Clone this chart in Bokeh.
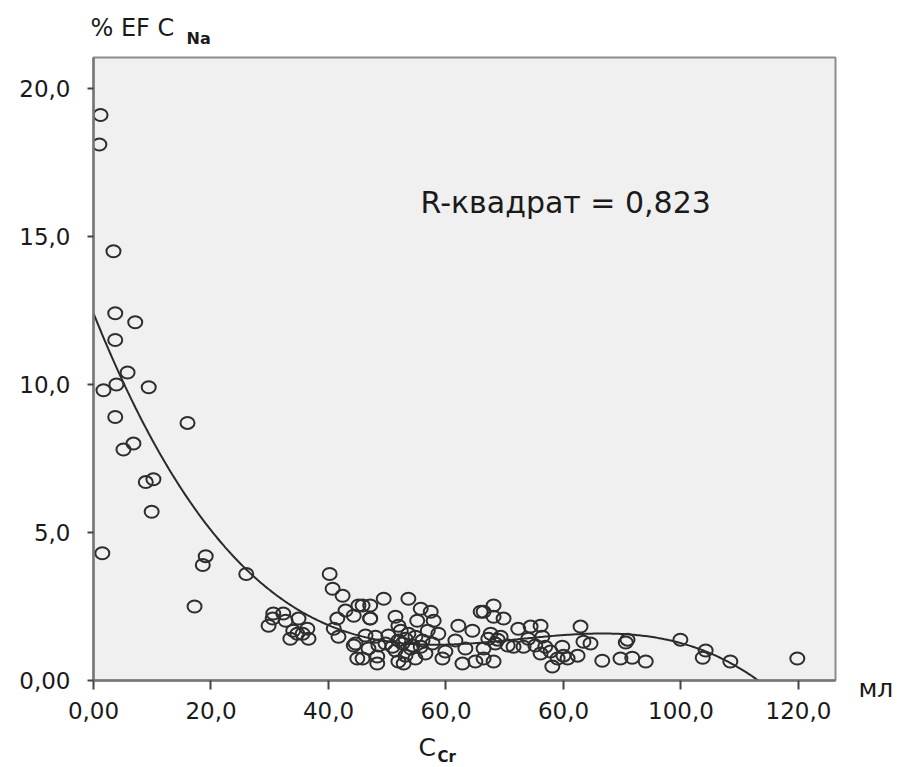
import numpy as np
from bokeh.plotting import figure
from bokeh.models import Range1d, FixedTicker, Label, ColumnDataSource
from bokeh.embed import file_html
from bokeh.resources import INLINE

# ---- data ----
ccr = [1.2, 1.0, 3.4, 3.7, 7.1, 3.7, 5.8, 3.9, 1.7, 9.4, 3.7, 16.0, 5.1, 6.8, 8.9, 10.2, 9.9, 1.5, 19.1, 18.6, 17.2, 26.0,
       30.6, 32.3, 30.5, 29.8, 32.7, 34.9, 33.5, 34.7, 35.6, 36.6, 36.4, 34.0,
       40.2, 40.7, 42.4, 42.9, 41.5, 44.3, 40.9, 41.7, 44.3, 45.1, 44.9, 45.8, 47.1, 47.1, 47.1, 49.4, 53.6, 51.4, 55.7, 57.4,
       55.1, 57.9, 56.9, 53.6, 51.9, 50.2, 48.0, 46.3, 44.6, 46.8, 48.5, 50.9, 52.6, 54.3, 56.0, 57.7, 58.7, 45.8, 48.3, 53.1,
       54.8, 59.4, 62.1, 64.5, 61.6, 63.3, 65.9, 62.8, 65.0, 59.9, 51.9, 52.8, 48.3, 51.9, 53.1, 54.0, 51.4, 54.8, 49.7, 55.7,
       52.3, 56.5,
       68.1, 66.4, 68.1, 69.8, 67.6, 69.3, 68.4, 66.4, 70.5, 72.3, 74.4, 76.1, 74.0, 76.4, 71.5, 73.2, 75.2, 76.9, 76.1, 77.8,
       79.8, 80.0, 79.0, 80.7, 82.4, 82.9, 83.4, 84.6, 86.6, 68.1, 78.1, 66.4, 67.2, 68.8,
       90.6, 90.9, 89.7, 91.7, 94.0, 99.9, 104.2, 103.7, 108.4, 119.8]
ef_na = [19.1, 18.1, 14.5, 12.4, 12.1, 11.5, 10.4, 10.0, 9.8, 9.9, 8.9, 8.7, 7.8, 8.0, 6.7, 6.8, 5.7, 4.3, 4.2, 3.9, 2.5, 3.6,
         2.26, 2.26, 2.09, 1.85, 2.02, 2.09, 1.41, 1.58, 1.58, 1.41, 1.75, 1.68,
         3.6, 3.1, 2.86, 2.36, 2.09, 2.19, 1.75, 1.48, 1.18, 2.53, 0.74, 2.53, 2.53, 2.09, 2.09, 2.76, 2.76, 2.15, 2.42, 2.32,
         2.02, 2.02, 1.68, 1.58, 1.85, 1.52, 1.48, 1.52, 1.25, 1.08, 1.18, 1.14, 1.25, 1.18, 1.35, 1.25, 1.58, 0.74, 0.81, 0.84,
         0.74, 0.74, 1.85, 1.68, 1.35, 1.08, 2.32, 0.57, 0.64, 0.98, 0.64, 0.57, 0.57, 1.35, 1.41, 1.08, 1.01, 1.48, 1.25, 1.14,
         1.68, 0.91,
         2.53, 2.32, 2.15, 2.09, 1.58, 1.48, 1.25, 1.08, 1.18, 1.75, 1.82, 1.85, 1.41, 1.48, 1.14, 1.14, 1.18, 1.14, 0.91, 0.98,
         1.14, 0.84, 0.74, 0.74, 0.84, 1.82, 1.31, 1.25, 0.67, 0.64, 0.47, 0.74, 1.41, 1.38,
         1.28, 1.38, 0.74, 0.77, 0.64, 1.38, 1.01, 0.77, 0.64, 0.74]

# fitted (cubic) line
fit_x = [0, 3.4, 5.7, 9.1, 12.5, 16.5, 19.9, 25.0, 28.9, 34.7, 40.3, 45.1, 50.2, 61.6, 66.7, 74.4, 82.9, 88.0, 97.0,
         99.9, 104.5, 108.4, 112.7]
fit_y = [12.46, 10.74, 9.83, 8.48, 7.14, 5.89, 5.19, 4.11, 3.2, 2.42, 1.85, 1.52, 1.31, 1.21, 1.25, 1.41, 1.52, 1.58, 1.41,
         1.41, 0.98, 0.57, 0.0]

x_ticks = [0, 20, 40, 60, 80, 100, 120]
x_tick_labels = ["0,00", "20,0", "40,0", "60,0", "60,0", "100,0", "120,0"]
y_ticks = [0, 5, 10, 15, 20]
y_tick_labels = ["0,00", "5,0", "10,0", "15,0", "20,0"]
r2_text = "R-квадрат = 0,823"

# ---- figure ----
CANVAS_H = 765
p = figure(frame_width=742, frame_height=623,
           min_border_left=93, min_border_top=57, min_border_right=62, min_border_bottom=CANVAS_H - 57 - 623,
           x_range=Range1d(0, 126.3), y_range=Range1d(0, 21.04),
           output_backend="svg", toolbar_location=None)
p.background_fill_color = "#f0f0f0"
p.border_fill_color = "white"
p.outline_line_color = "#8c8c8c"
p.outline_line_width = 2
p.grid.visible = False

for ax in (p.xaxis[0], p.yaxis[0]):
    ax.axis_line_color = "#777777"
    ax.axis_line_width = 2.5
    ax.major_tick_line_color = "#444444"
    ax.major_tick_line_width = 2
    ax.major_tick_in = 0
    ax.minor_tick_line_color = None
    ax.major_label_text_font = "DejaVu Sans"
    ax.major_label_text_font_size = "23px"
    ax.major_label_text_color = "#1a1a1a"

p.xaxis.ticker = FixedTicker(ticks=x_ticks)
p.xaxis.major_label_overrides = {t: l for t, l in zip(x_ticks, x_tick_labels)}
p.xaxis.major_tick_out = 9
p.xaxis.major_label_standoff = 12
p.yaxis.ticker = FixedTicker(ticks=y_ticks)
p.yaxis.major_label_overrides = {t: l for t, l in zip(y_ticks, y_tick_labels)}
p.yaxis.major_tick_out = 6
p.yaxis.major_label_standoff = 17

# fit line
coef = np.polyfit(fit_x, fit_y, 3)
xx = np.linspace(0, 114, 400)
p.line(xx, np.polyval(coef, xx), line_color="#2a2a2a", line_width=2)

# scatter
src = ColumnDataSource(dict(x=ccr, y=ef_na))
p.ellipse(x="x", y="y", width=14, height=12, width_units="screen", height_units="screen",
          source=src, fill_color=None, line_color="#2e2e2e", line_width=2)

# texts (canvas units: x from left, y from top; small empirical baseline correction)
def lab(text, page_x, baseline_y, size, bold=False, place=None, font="DejaVu Sans"):
    l = Label(x=page_x, y=baseline_y - 0.42 * size, x_units="canvas", y_units="canvas", text=text,
              text_font=font, text_font_size=f"{size}px", text_color="#1a1a1a",
              text_font_style="bold" if bold else "normal",
              text_baseline="alphabetic", text_align="left")
    if place is None:
        p.add_layout(l)
    else:
        p.add_layout(l, place)

lab("%  EF C", 90, 38, 24, place="above")
lab("Na", 186, 45, 16, bold=True, place="above")
lab("C", 418, 757, 25, place="below")
lab("Cr", 437, 763, 15, bold=True, place="right")
lab("мл", 858, 698, 25, place="right")
lab(r2_text, 420, 215, 30)

open("out.html", "w").write(file_html(p, INLINE))
